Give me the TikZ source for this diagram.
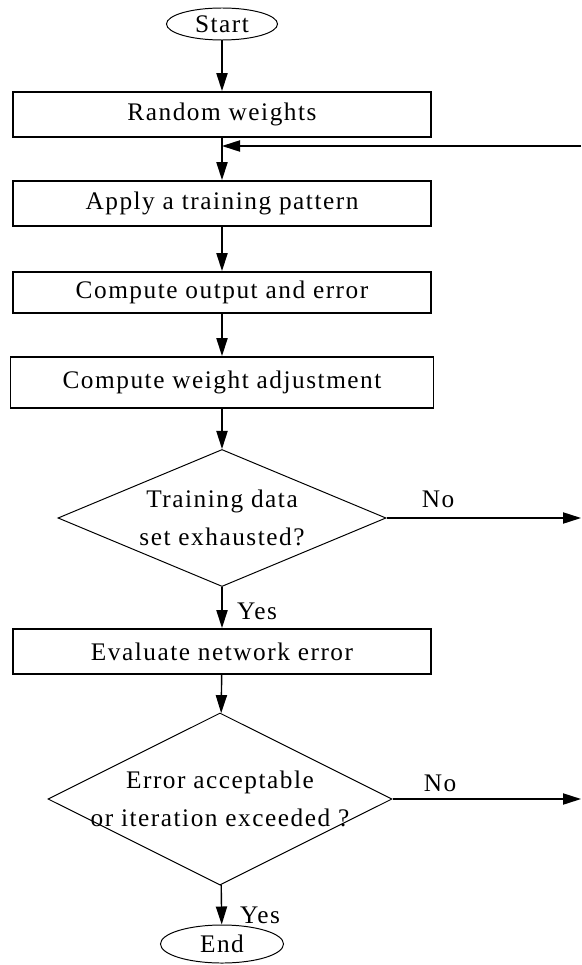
\documentclass[tikz,border=0pt]{standalone}
\usepackage{fontspec}
\setmainfont{Liberation Serif}[LetterSpace=6]
\usetikzlibrary{shapes.geometric,arrows.meta}

\begin{document}
\begin{tikzpicture}[x = 0.025cm, y = -0.025cm,
	every node/.style = {font = \fontsize{18}{27}\selectfont},
	box/.style = {draw, line width = 1.3pt, minimum width = 10.45cm, minimum height = 1.125cm, inner sep = 0pt},
	decision/.style = {draw, diamond, line width = 0.7pt, aspect = 2.4, inner xsep = -1cm, inner ysep = 0pt, align = center},
	terminal/.style = {draw, ellipse, line width = 0.7pt, inner sep = 0pt},
	arrow/.style = {-{Triangle[length = 4.5mm, width = 2.8mm]}, line width = 1pt}]
	\useasboundingbox (0,0) rectangle (581,965);
	
	% steps
	\node[terminal, minimum width = 2.775cm, minimum height = 0.8cm] (start) at (222,24) {Start};
	\node[box] (random) at (222,114.5) {Random weights};
	\node[box] (apply) at (222,203.5) {Apply a training pattern};
	\node[box, minimum height = 1.025cm] (output) at (222,292.5) {Compute output and error};
	\node[box, minimum width = 10.575cm, minimum height = 1.275cm] (adjust) at (222,382.5) {Compute weight adjustment};
	\node[decision, minimum width = 8.2cm, minimum height = 3.425cm] (exhausted) at (222,518) {Training data\\set exhausted?};
	\node[box] (evaluate) at (222,651.5) {Evaluate network error};
	\node[decision, minimum width = 8.6cm, minimum height = 4.3cm] (accept) at (220,799) {Error acceptable\\or iteration exceeded ?};
	\node[terminal, minimum width = 3.075cm, minimum height = 0.95cm] (end) at (222,944) {End};
	
	% flow
	\draw[arrow] (start) -- (random);
	\draw[arrow] (random) -- (apply);
	\draw[arrow] (apply) -- (output);
	\draw[arrow] (output) -- (adjust);
	\draw[arrow] (adjust) -- (exhausted);
	\draw[arrow] (exhausted) -- (evaluate);
	\draw[arrow] (evaluate) -- (accept);
	\draw[arrow] (accept) -- (end);
	
	% loop back and exits
	\coordinate (loop) at (581,146);
	\draw[arrow] (loop) -- (loop -| random.south);
	\draw[arrow] (exhausted.east) -- (exhausted.east -| loop);
	\draw[arrow] (accept.east) -- (accept.east -| loop);
	
	\node (no1) at (438,499) {No};
	\node (yes1) at (257,611) {Yes};
	\node (no2) at (440,783) {No};
	\node (yes2) at (260,915) {Yes};
\end{tikzpicture}
\end{document}
